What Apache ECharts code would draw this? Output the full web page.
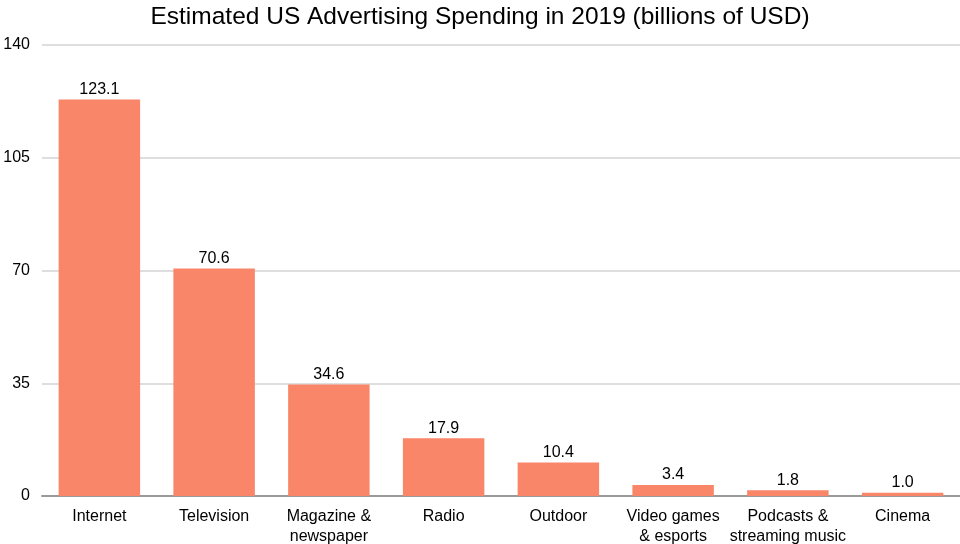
<!DOCTYPE html>
<html><head><meta charset="utf-8">
<script src="https://cdn.jsdelivr.net/npm/echarts@6/dist/echarts.min.js"></script>
<style>html,body{margin:0;padding:0;background:#fff}#c{width:960px;height:544px}</style>
</head><body><div id="c"></div>
<script>
const categories = ['Internet','Television','Magazine &\nnewspaper','Radio','Outdoor','Video games\n& esports','Podcasts &\nstreaming music','Cinema'];
const values = [123.1, 70.6, 34.6, 17.9, 10.4, 3.4, 1.8, 1.0];
const yTicks = [0, 35, 70, 105, 140];
const chart = echarts.init(document.getElementById('c'));
chart.setOption({
  animation: false,
  backgroundColor: '#fff',
  title: { text: 'Estimated US Advertising Spending in 2019 (billions of USD)', left: 'center', top: 0,
    textStyle: { fontFamily: 'Liberation Sans', fontSize: 24.5, fontWeight: 'normal', color: '#000' } },
  grid: { left: 42, right: 0, top: 45, bottom: 48, containLabel: false, outerBoundsMode: 'none' },
  xAxis: { type: 'category', data: categories,
    axisLine: { lineStyle: { color: '#999', width: 2 } }, axisTick: { show: false },
    axisLabel: { color: '#000', fontFamily: 'Liberation Sans', fontSize: 16, margin: 11, lineHeight: 20, interval: 0 } },
  yAxis: { type: 'value', min: yTicks[0], max: yTicks[yTicks.length-1], interval: 35,
    axisLine: { show: false }, axisTick: { show: false },
    splitLine: { lineStyle: { color: '#dedede', width: 2 } },
    axisLabel: { color: '#000', fontFamily: 'Liberation Sans', fontSize: 16, margin: 12 } },
  series: [{ type: 'bar', data: values, barWidth: '71%',
    itemStyle: { color: '#F98669' },
    label: { show: true, position: 'top', color: '#000', fontFamily: 'Liberation Sans', fontSize: 16, distance: 2,
      formatter: p => p.value.toFixed(1) } }]
});
</script></body></html>
